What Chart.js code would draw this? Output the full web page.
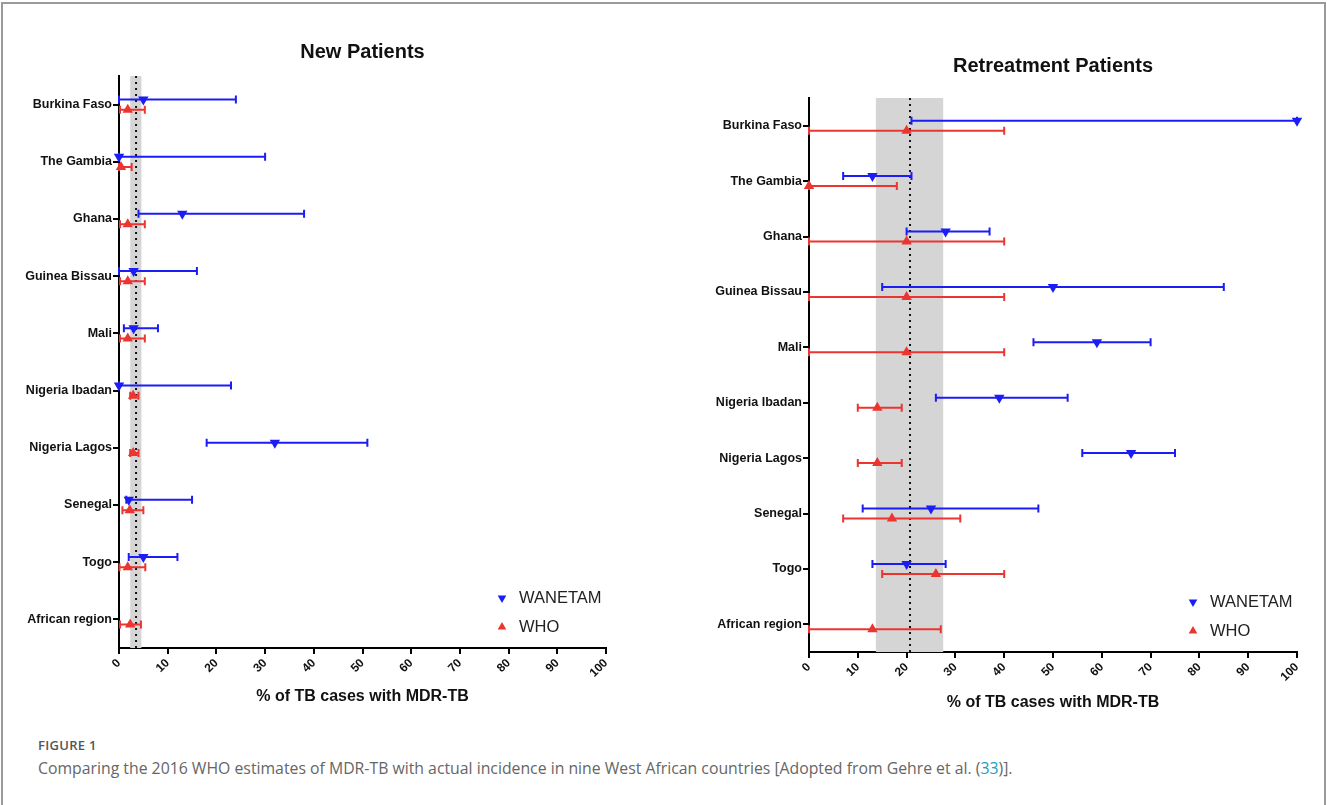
<!DOCTYPE html>
<html>
<head>
<meta charset="utf-8">
<script src="https://cdn.jsdelivr.net/npm/chart.js@4.4.1/dist/chart.umd.min.js"></script>
<style>
html,body{margin:0;padding:0;background:#fff;}
body{width:1327px;height:805px;position:relative;overflow:hidden;font-family:'Open Sans',sans-serif;}
#frame{position:absolute;left:1px;top:2px;width:1321px;height:820px;border:2px solid #9a9a9a;border-bottom:none;}
canvas{position:absolute;top:0;}
#cNew{left:0;}
#cRe{left:660px;}
.fig{position:absolute;left:38px;top:736px;font-size:13px;font-weight:600;color:#555;letter-spacing:.3px;}
.cap{position:absolute;left:38px;top:757px;font-size:15.8px;color:#666;}
.cap a{color:#1a9bbf;text-decoration:none;}
</style>
</head>
<body>
<div id="frame"></div>
<canvas id="cNew" width="660" height="730"></canvas>
<canvas id="cRe" width="667" height="730"></canvas>
<div class="fig">FIGURE 1</div>
<div class="cap">Comparing the 2016 WHO estimates of MDR-TB with actual incidence in nine West African countries [Adopted from Gehre et al. (<a href="#">33</a>)].</div>

<script>
// ---------- data ----------
const countries = ["Burkina Faso","The Gambia","Ghana","Guinea Bissau","Mali",
  "Nigeria Ibadan","Nigeria Lagos","Senegal","Togo","African region"];
const xTicks = [0,10,20,30,40,50,60,70,80,90,100];

// new patients
const wanetamNew   = [5, 0, 13, 3, 3, 0, 32, 2, 5, null];
const wanetamNewLo = [0, 0, 4, 0, 1, 0, 18, 1.5, 2, null];
const wanetamNewHi = [24, 30, 38, 16, 8, 23, 51, 15, 12, null];
const whoNew       = [1.8, 0.4, 1.8, 1.8, 1.8, 2.9, 2.9, 2.2, 1.8, 2.3];
const whoNewLo     = [0.2, 0, 0.2, 0.2, 0.2, 2.3, 2.3, 0.7, 0.1, 0.2];
const whoNewHi     = [5.3, 2.6, 5.3, 5.3, 5.3, 4.0, 4.0, 5.0, 5.4, 4.5];
const newBand = [2.3, 4.6];
const newMedian = 3.5;

// retreatment patients
const wanetamRe   = [100, 13, 28, 50, 59, 39, 66, 25, 20, null];
const wanetamReLo = [21, 7, 20, 15, 46, 26, 56, 11, 13, null];
const wanetamReHi = [100, 21, 37, 85, 70, 53, 75, 47, 28, null];
const whoRe       = [20, 0, 20, 20, 20, 14, 14, 17, 26, 13];
const whoReLo     = [0, 0, 0, 0, 0, 10, 10, 7, 15, 0];
const whoReHi     = [40, 18, 40, 40, 40, 19, 19, 31, 40, 27];
const reBand = [13.7, 27.5];
const reMedian = 20.7;

// ---------- style ----------
const NARROW = "'Liberation Sans Narrow','Arial Narrow','Liberation Sans',Arial,sans-serif";
const BLUE = "#1c1cf5";
const RED = "#ec3430";
const DODGE = 0.09;   // vertical offset of the two series inside a row

Chart.defaults.font.family = NARROW;
Chart.defaults.color = "#000";
Chart.defaults.animation = false;

function points(vals, lo, hi, shift){
  const out = [];
  vals.forEach((v,i)=>{
    if(v === null) return;
    out.push({x:v, y:i+shift, lo:lo[i], hi:hi[i]});
  });
  return out;
}

// band, median line, error bars and legend
const forestPlugin = {
  id:"forest",
  beforeDatasetsDraw(chart, args, opts){
    const {ctx, chartArea:a, scales:{x}} = chart;
    ctx.save();
    const x0 = x.getPixelForValue(opts.band[0]);
    const x1 = x.getPixelForValue(opts.band[1]);
    ctx.fillStyle = "#d5d5d5";
    ctx.fillRect(x0, a.top, x1-x0, a.bottom-a.top);

    const xm = x.getPixelForValue(opts.median);
    ctx.strokeStyle = "#111";
    ctx.lineWidth = 2;
    ctx.setLineDash([2,4]);
    ctx.beginPath(); ctx.moveTo(xm, a.top); ctx.lineTo(xm, a.bottom); ctx.stroke();
    ctx.setLineDash([]);

    chart.data.datasets.forEach((ds,di)=>{
      const meta = chart.getDatasetMeta(di);
      ctx.strokeStyle = ds.backgroundColor;
      ctx.lineWidth = 2;
      meta.data.forEach((pt,i)=>{
        const r = ds.data[i];
        const xl = x.getPixelForValue(r.lo), xh = x.getPixelForValue(r.hi), y = pt.y;
        ctx.beginPath();
        ctx.moveTo(xl, y); ctx.lineTo(xh, y);
        ctx.moveTo(xl, y-4); ctx.lineTo(xl, y+4);
        ctx.moveTo(xh, y-4); ctx.lineTo(xh, y+4);
        ctx.stroke();
      });
    });
    ctx.restore();
  },
  afterDraw(chart){
    const {ctx, chartArea:a} = chart;
    const lx = a.right - 104;
    const rows = [a.bottom - 50, a.bottom - 21];
    ctx.save();
    chart.data.datasets.forEach((ds,i)=>{
      ctx.fillStyle = ds.backgroundColor;
      Chart.helpers.drawPoint(ctx, {pointStyle:"triangle", radius:5, rotation:ds.pointRotation, borderWidth:0}, lx, rows[i]);
      ctx.fillStyle = "#222";
      ctx.font = "16.5px " + NARROW;
      ctx.textBaseline = "middle";
      ctx.fillText(ds.label, lx + 17, rows[i]);
    });
    ctx.restore();
  }
};

function makeChart(id, title, wan, who, band, median, geo){
  return new Chart(document.getElementById(id), {
    type:"scatter",
    data:{
      datasets:[
        {label:"WANETAM", data:points(wan[0], wan[1], wan[2], -DODGE),
         backgroundColor:BLUE, pointStyle:"triangle", pointRotation:180, pointRadius:6, borderWidth:0, clip:false},
        {label:"WHO", data:points(who[0], who[1], who[2], DODGE),
         backgroundColor:RED, pointStyle:"triangle", pointRotation:0, pointRadius:6, borderWidth:0, clip:false}
      ]
    },
    options:{
      responsive:false,
      devicePixelRatio:1,
      layout:{padding:{left:0, right:geo.right, top:0, bottom:geo.bottom}},
      plugins:{
        legend:{display:false},
        tooltip:{enabled:false},
        title:{display:true, text:title, fullSize:false, color:"#111",
          font:{size:20, weight:"bold", lineHeight:1.2},
          padding:{top:geo.titleTop, bottom:geo.titleBottom}},
        forest:{band:band, median:median}
      },
      scales:{
        x:{
          type:"linear", min:0, max:100, z:1,
          afterBuildTicks:s=>{ s.ticks = xTicks.map(v=>({value:v})); },
          afterFit:s=>{ s.height = 70; },
          ticks:{minRotation:45, maxRotation:45, padding:2, color:"#111", font:{size:12, weight:"bold"}},
          grid:{display:true, drawOnChartArea:false, drawTicks:true, tickLength:6, color:"#000", lineWidth:2},
          border:{display:true, color:"#000", width:2},
          title:{display:true, text:"% of TB cases with MDR-TB", color:"#111",
            font:{size:16, weight:"bold", lineHeight:1.2}, padding:{top:0, bottom:geo.xTitleBottom}}
        },
        y:{
          type:"linear", min:-0.5, max:countries.length-0.5, reverse:true, z:1,
          afterBuildTicks:s=>{ s.ticks = countries.map((c,i)=>({value:i})); },
          afterFit:s=>{ s.width = geo.yWidth; },
          ticks:{autoSkip:false, padding:1, color:"#111", font:{size:12.5, weight:"bold"},
            callback:v=>countries[v]},
          grid:{display:true, drawOnChartArea:false, drawTicks:true, tickLength:6, color:"#000", lineWidth:2},
          border:{display:true, color:"#000", width:2}
        }
      }
    },
    plugins:[forestPlugin]
  });
}

makeChart("cNew", "New Patients",
  [wanetamNew, wanetamNewLo, wanetamNewHi],
  [whoNew, whoNewLo, whoNewHi],
  newBand, newMedian,
  {right:54, bottom:12, titleTop:40, titleBottom:12, yWidth:119, xTitleBottom:12});

makeChart("cRe", "Retreatment Patients",
  [wanetamRe, wanetamReLo, wanetamReHi],
  [whoRe, whoReLo, whoReHi],
  reBand, reMedian,
  {right:30, bottom:8, titleTop:54, titleBottom:20, yWidth:149, xTitleBottom:10});
</script>
</body>
</html>
